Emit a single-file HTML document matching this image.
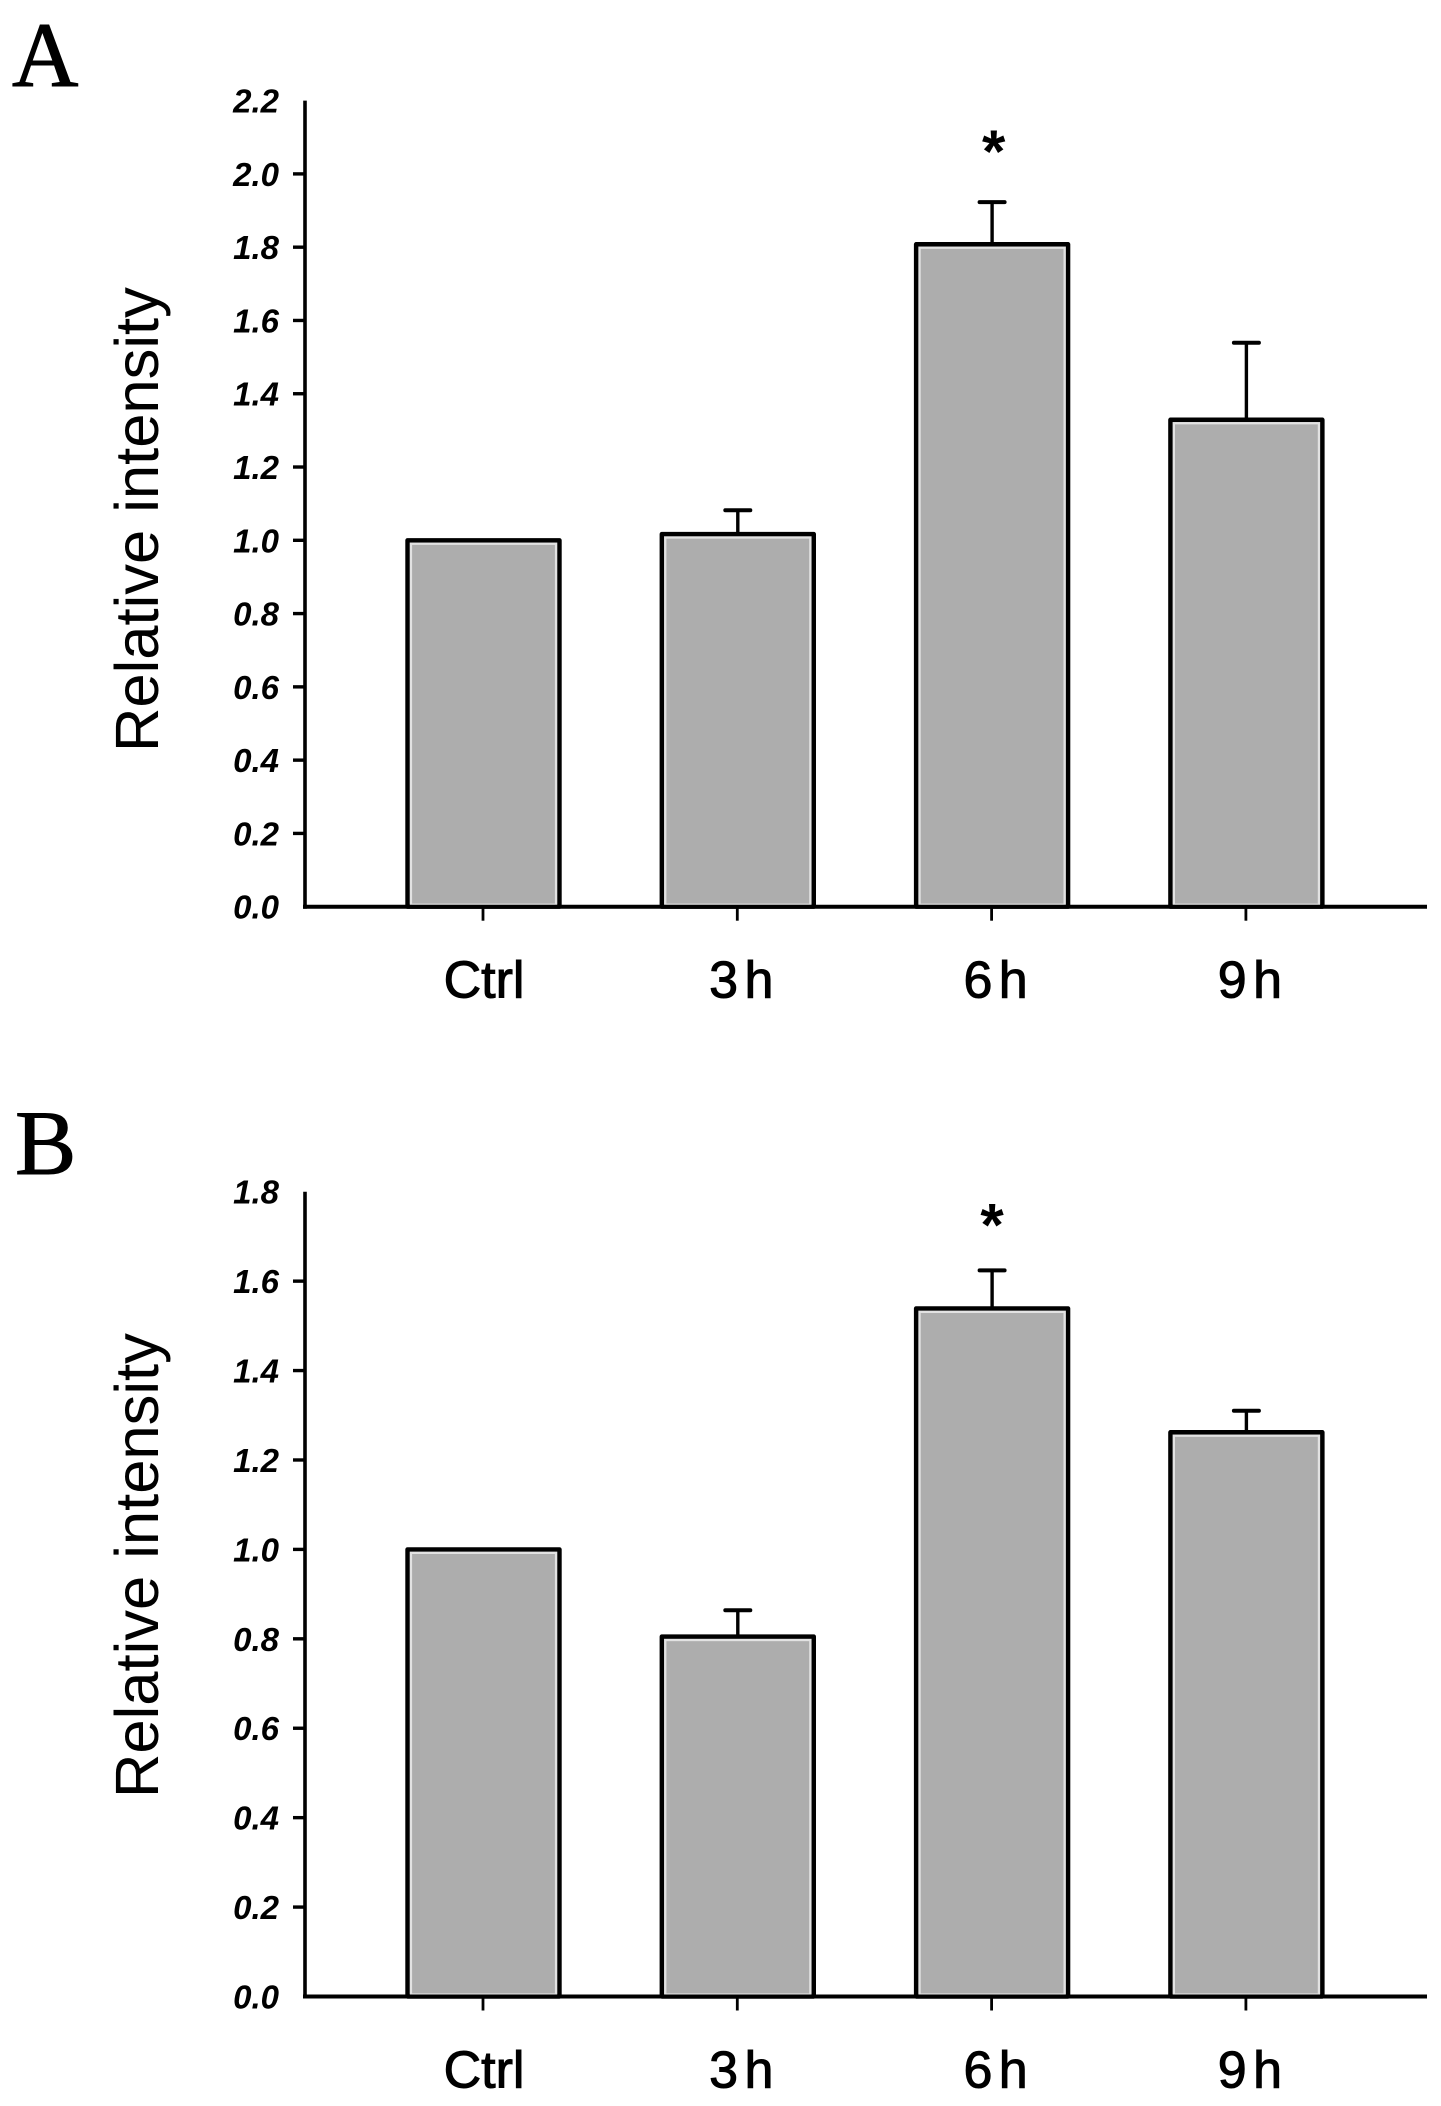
<!DOCTYPE html>
<html lang="en">
<head>
<meta charset="utf-8">
<title>Relative intensity bar charts</title>
<style>
  html, body { margin: 0; padding: 0; background: #fff; }
  #figure { display: block; width: 1441px; height: 2106px; background: #fff; }
  .tick-label { font: italic bold 33px "Liberation Sans", Arial, sans-serif; fill: #000; text-anchor: end; }
  .y-title { font: 61.5px "Liberation Sans", Arial, sans-serif; fill: #000; }
  .x-label { font: 52px "Liberation Sans", Arial, sans-serif; fill: #000; stroke: #000; stroke-width: 1; text-anchor: middle; word-spacing: -8px; }
  .panel-letter { font: 92px "Liberation Serif", "Times New Roman", serif; fill: #000; stroke: #000; stroke-width: 1; }
  .star { font: bold 60px "Liberation Sans", Arial, sans-serif; fill: #000; text-anchor: middle; }
</style>
</head>
<body>
<svg id="figure" xmlns="http://www.w3.org/2000/svg" width="1441" height="2106" viewBox="0 0 1441 2106"></svg>
<script>
const categories = ["Ctrl", "3 h", "6 h", "9 h"];
const tickLabelsA = ["0.0", "0.2", "0.4", "0.6", "0.8", "1.0", "1.2", "1.4", "1.6", "1.8", "2.0", "2.2"];
const tickLabelsB = ["0.0", "0.2", "0.4", "0.6", "0.8", "1.0", "1.2", "1.4", "1.6", "1.8"];
const valuesA = [1.0, 1.017, 1.808, 1.329];
const errorTopsA = [null, 1.082, 1.923, 1.539];
const valuesB = [1.0, 0.805, 1.539, 1.262];
const errorTopsB = [null, 0.864, 1.624, 1.31];
const significantA = [false, false, true, false];
const significantB = [false, false, true, false];

const svg = document.getElementById('figure');
const NS = 'http://www.w3.org/2000/svg';

function make(parent, tag, attrs, text) {
  const el = document.createElementNS(NS, tag);
  for (const k in attrs) el.setAttribute(k, attrs[k]);
  if (text !== undefined) el.textContent = text;
  parent.appendChild(el);
  return el;
}

function xScale(i) { return 483.5 + 254.3 * i; }

function drawPanel(cfg) {
  const g = make(svg, 'g', {});
  
  

  const y = v => cfg.y0 - cfg.unit * v;
  const yMax = parseFloat(cfg.ticks[cfg.ticks.length - 1]);

  const letter = make(g, 'text', { class: 'panel-letter', x: cfg.letterX, y: cfg.letterY }, cfg.id);
  
  

  const title = make(g, 'text', { class: 'y-title', transform: 'translate(158,' + cfg.titleY + ') rotate(-90)' }, 'Relative intensity');
  
  

  cfg.values.forEach((v, i) => {
    const cx = xScale(i);
    const top = y(v);
    const bar = make(g, 'rect', {
      x: cx - 76, y: top, width: 152, height: cfg.y0 - top,
      fill: '#adadad', stroke: '#000', 'stroke-width': 4.4, 'stroke-linejoin': 'round'
    });
    
    

    const glow = make(g, 'rect', {
      x: cx - 72.5, y: top + 3.5, width: 145, height: cfg.y0 - top - 5.5,
      fill: 'none', stroke: '#e2e2e2', 'stroke-width': 2.2
    });
    
    

    if (cfg.errors[i] !== null) {
      const capY = y(cfg.errors[i]);
      const stem = make(g, 'line', { x1: cx, x2: cx, y1: top, y2: capY, stroke: '#000', 'stroke-width': 3.4 });
      
      
      const cap = make(g, 'line', { x1: cx - 12.5, x2: cx + 12.5, y1: capY, y2: capY, stroke: '#000', 'stroke-width': 4, 'stroke-linecap': 'round' });
      
      
      if (cfg.significant[i]) {
        const star = make(g, 'text', { class: 'star', x: cx + cfg.starDx, y: capY - cfg.starGap }, '*');
        
        
      }
    }

    const tick = make(g, 'line', { x1: cx - 0.5, x2: cx - 0.5, y1: cfg.y0, y2: cfg.y0 + 14, stroke: '#000', 'stroke-width': 2.8 });
    
    

    const label = make(g, 'text', { class: 'x-label', x: cx + (i === 0 ? 0.5 : 3.5), y: cfg.y0 + 91 }, categories[i]);
    
    
  });

  const yAxis = make(g, 'line', { x1: 305, x2: 305, y1: y(yMax), y2: cfg.y0 + 2, stroke: '#000', 'stroke-width': 3.6 });
  
  

  const xAxis = make(g, 'line', { x1: 303, x2: 1427, y1: cfg.y0, y2: cfg.y0, stroke: '#000', 'stroke-width': 4 });
  
  

  cfg.ticks.forEach((t, i) => {
    const v = parseFloat(t);
    if (i > 0 && i < cfg.ticks.length - 1) {
      const tk = make(g, 'line', { x1: 293, x2: 305, y1: y(v), y2: y(v), stroke: '#000', 'stroke-width': 3.4 });
      
      
    }
    const lb = make(g, 'text', { class: 'tick-label', x: 279, y: y(v) + 12 }, t);
    
    
  });
}

drawPanel({ id: 'A', y0: 906.7, unit: 366.4, ticks: tickLabelsA, values: valuesA, errors: errorTopsA, significant: significantA, letterX: 12, letterY: 86, titleY: 752, starGap: 30, starDx: 1.6 });
drawPanel({ id: 'B', y0: 1996.5, unit: 447.1, ticks: tickLabelsB, values: valuesB, errors: errorTopsB, significant: significantB, letterX: 15, letterY: 1174, titleY: 1798, starGap: 25, starDx: 0 });
</script>
</body>
</html>
